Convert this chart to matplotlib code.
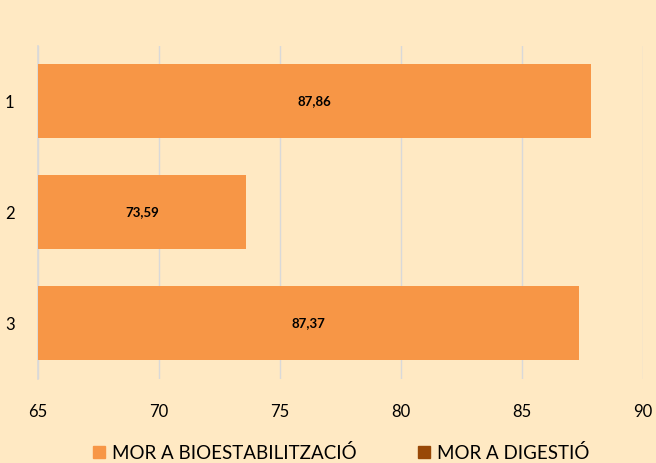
import matplotlib.pyplot as plt
from matplotlib.patches import Patch

categories = ['1', '2', '3']
bio_values = [87.86, 73.59, 87.37]
labels = ['87,86', '73,59', '87,37']
legend_names = ['MOR A BIOESTABILITZACIÓ', 'MOR A DIGESTIÓ']

BG = '#FFE9C3'
ORANGE = '#F79646'
BROWN = '#984807'

plt.rcParams['font.family'] = ['Lato', 'DejaVu Sans']

fig = plt.figure(figsize=(6.56, 4.63), dpi=100, facecolor=BG)
ax = fig.add_axes([0.058, 0.1825, 0.922, 0.7192])
ax.set_facecolor(BG)

ypos = list(range(len(categories)))
ax.barh(ypos, [v - 65 for v in bio_values], left=65, height=0.667,
        color=ORANGE, zorder=3)
for y, v, t in zip(ypos, bio_values, labels):
    ax.text((65 + v) / 2, y, t, ha='center', va='center',
            fontsize=9.5, fontweight='bold', color='black', zorder=4)

ax.set_xlim(65, 90)
ax.set_ylim(2.5, -0.5)
ax.set_xticks([65, 70, 75, 80, 85, 90])
ax.set_yticks(ypos)
ax.set_yticklabels(categories)
ax.grid(axis='x', color='#D9D9D9', linewidth=1, zorder=0)
for s in ['top', 'right', 'bottom']:
    ax.spines[s].set_visible(False)
ax.spines['left'].set_color('#D9D9D9')
ax.spines['left'].set_linewidth(1.2)
ax.tick_params(axis='both', length=0, labelsize=12, colors='black')
ax.tick_params(axis='x', pad=18)
ax.tick_params(axis='y', pad=17)

handles = [Patch(color=ORANGE), Patch(color=BROWN)]
fig.legend(handles, legend_names, loc='center', bbox_to_anchor=(0.52, 0.022),
           ncol=2, frameon=False, fontsize=13.5, handlelength=0.65,
           handleheight=0.65, handletextpad=0.35, columnspacing=3.3)

fig.savefig('out.png', dpi=100, facecolor=BG)
